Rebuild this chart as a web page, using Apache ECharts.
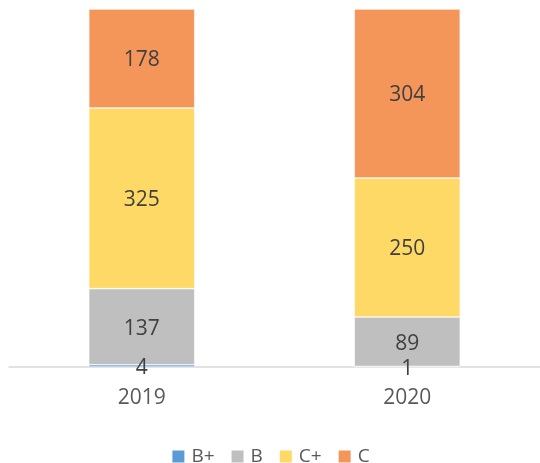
<!DOCTYPE html>
<html><head><meta charset="utf-8">
<script src="https://cdn.jsdelivr.net/npm/echarts@6/dist/echarts.min.js"></script>
<style>html,body{margin:0;padding:0;background:#fff}#c{width:540px;height:463px}</style>
</head><body><div id="c"></div>
<script>
const categories = ['2019', '2020'];
const seriesNames = ['B+', 'B', 'C+', 'C'];
const valuesBPlus = [4, 1];
const valuesB = [137, 89];
const valuesCPlus = [325, 250];
const valuesC = [178, 304];
const colors = ['#5B9BD5', '#BFBFBF', '#FFD966', '#F4965A'];

const allValues = [valuesBPlus, valuesB, valuesCPlus, valuesC];
const totals = categories.map((_, i) => allValues.reduce((s, a) => s + a[i], 0));
const font = '"Open Sans", "Liberation Sans", sans-serif';

const chart = echarts.init(document.getElementById('c'));
chart.setOption({
  animation: false,
  color: colors,
  grid: { left: 9, right: 0, top: 9, bottom: 96 },
  legend: {
    left: 'center', top: 442,
    itemWidth: 14, itemHeight: 14, itemGap: 15,
    icon: 'rect',
    textStyle: { color: '#595959', fontSize: 19, fontFamily: font, padding: [0, 0, 0, 1] },
    data: seriesNames
  },
  xAxis: {
    type: 'category', data: categories,
    axisLine: { lineStyle: { color: '#D9D9D9', width: 1.5 } },
    axisTick: { show: false },
    axisLabel: { color: '#595959', fontSize: 21, fontFamily: font, margin: 21 }
  },
  yAxis: {
    type: 'value', min: 0, max: Math.max(...totals), show: false,
    splitLine: { show: false }
  },
  series: allValues.map((vals, k) => ({
    name: seriesNames[k], type: 'bar', stack: 'total', barWidth: 106,
    data: vals,
    itemStyle: { borderColor: '#fff', borderWidth: 0.6 },
    label: { show: true, position: 'inside', offset: [0, 2], color: '#404040', fontSize: 21, fontFamily: font }
  }))
});
</script></body></html>
